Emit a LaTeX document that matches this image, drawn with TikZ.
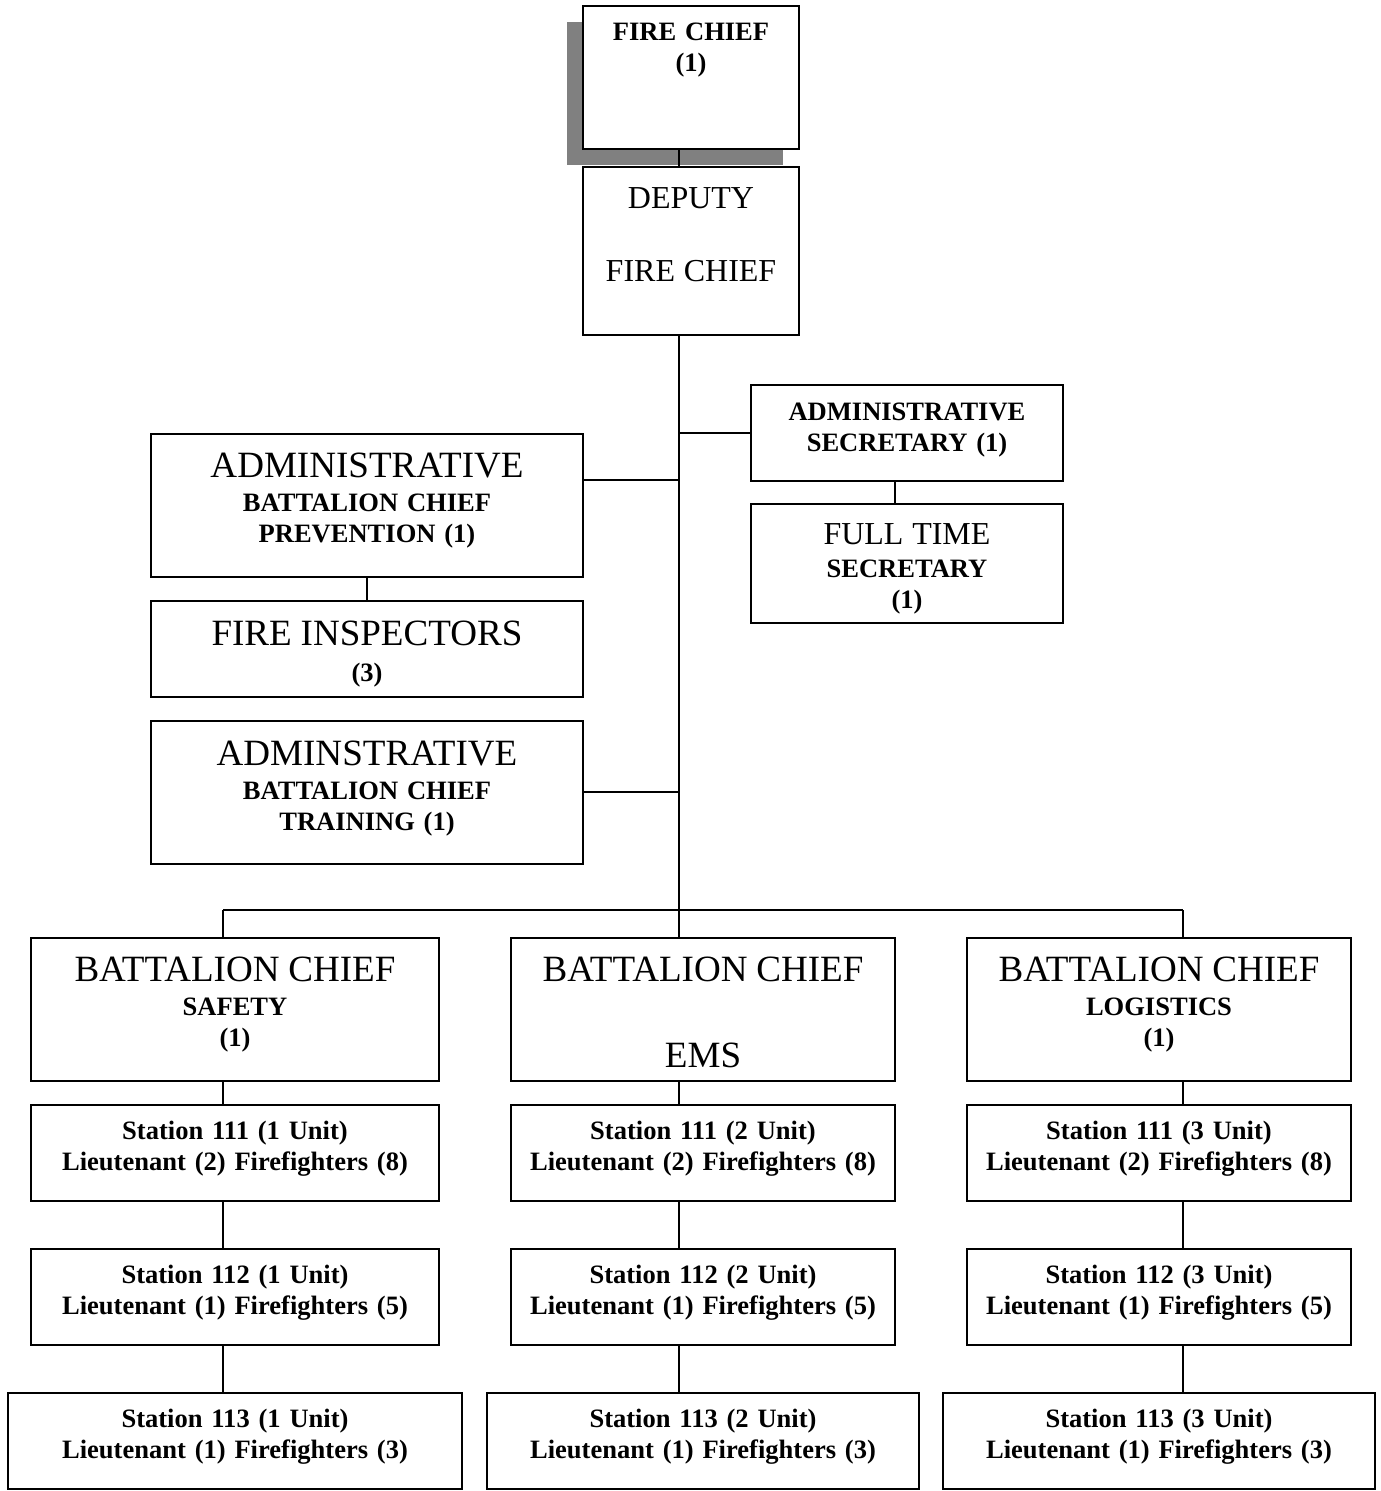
\documentclass[tikz,border=0pt]{standalone}
\usepackage{fontspec}
\setmainfont{Liberation Serif}
\usetikzlibrary{shadows}
\newcommand{\lgtxt}[1]{{\mdseries\fontsize{21.1}{24}\selectfont #1}}
\newcommand{\mdtxt}[1]{{\mdseries\fontsize{18.2}{21}\selectfont #1}}

\begin{document}
\begin{tikzpicture}[x=0.02cm, y=-0.02cm, line width=1.1pt,
  every node/.style={font=\bfseries\fontsize{15.1}{17.6}\selectfont},
  box/.style={draw, anchor=north, align=center, inner sep=0pt, text height=0.70cm},
  bigbox/.style={box, text height=0.88cm}]
  \useasboundingbox (0,0) rectangle (1380,1491);

  % top of the chart
  \node[box, fill=white, text width=4.32cm, text depth=2.16cm,
    drop shadow={shadow xshift=-0.32cm, shadow yshift=-0.32cm, fill=black!50, opacity=1}]
    (chief) at (691,5) {FIRE CHIEF\\(1)};
  \node[bigbox, text height=0.84cm, text width=4.32cm, text depth=2.52cm] (deputy) at (691,166)
    {\mdtxt{DEPUTY}\\[0.84cm]\mdtxt{FIRE CHIEF}};

  % staff boxes
  \node[box, text height=0.72cm, text width=6.24cm, text depth=1.20cm] (adsec) at (907,384)
    {ADMINISTRATIVE\\SECRETARY (1)};
  \node[bigbox, text height=0.82cm, text width=6.24cm, text depth=1.56cm] (ftsec) at (907,503)
    {\mdtxt{FULL TIME}\\[0.04cm]SECRETARY\\(1)};
  \node[bigbox, text width=8.64cm, text depth=1.98cm] (prev) at (367,433)
    {\lgtxt{ADMINISTRATIVE}\\[0.06cm]BATTALION CHIEF\\PREVENTION (1)};
  \node[bigbox, text height=0.90cm, text width=8.64cm, text depth=1.02cm] (insp) at (367,600)
    {\lgtxt{FIRE INSPECTORS}\\[0.1cm](3)};
  \node[bigbox, text height=0.90cm, text width=8.64cm, text depth=1.96cm] (train) at (367,720)
    {\lgtxt{ADMINSTRATIVE}\\[0.06cm]BATTALION CHIEF\\TRAINING (1)};

  % battalion chiefs
  \node[bigbox, text width=8.16cm, text depth=1.98cm] (bcs) at (235,937)
    {\lgtxt{BATTALION CHIEF}\\[0.06cm]SAFETY\\(1)};
  \node[bigbox, text width=7.68cm, text depth=1.98cm] (bce) at (703,937)
    {\lgtxt{BATTALION CHIEF}\\[1.1cm]\lgtxt{EMS}};
  \node[bigbox, text width=7.68cm, text depth=1.98cm] (bcl) at (1159,937)
    {\lgtxt{BATTALION CHIEF}\\[0.06cm]LOGISTICS\\(1)};

  \coordinate (spine) at (679,910);
  \coordinate (buss) at (223,910);
  \coordinate (buse) at (679,910);
  \coordinate (busl) at (1183,910);
  \coordinate (prevjoin) at ([yshift=0.51cm]prev.east);

  \draw (chief.south -| spine) -- (deputy.north -| spine);
  \draw (deputy.south -| spine) -- (spine);
  \draw (adsec.west) -- (adsec.west -| spine);
  \draw ([xshift=-0.24cm]adsec.south) -- ([xshift=-0.24cm]ftsec.north);
  \draw (prevjoin) -- (prevjoin -| spine);
  \draw (prev.south) -- (insp.north);
  \draw (train.east) -- (train.east -| spine);
  \draw (buss) -- (busl);

  % stations under each battalion chief
  \foreach \c/\x/\w/\ww/\u in {s/235/8.16/9.10/1, e/703/7.68/8.64/2, l/1159/7.68/8.64/3} {
    \node[box, text width=\w cm, text depth=1.22cm] (sta\c) at (\x,1104)
      {Station 111 (\u\ Unit)\\Lieutenant (2) Firefighters (8)};
    \node[box, text width=\w cm, text depth=1.22cm] (stb\c) at (\x,1248)
      {Station 112 (\u\ Unit)\\Lieutenant (1) Firefighters (5)};
    \node[box, text width=\ww cm, text depth=1.22cm] (stc\c) at (\x,1392)
      {Station 113 (\u\ Unit)\\Lieutenant (1) Firefighters (3)};
    \draw (bus\c) -- (bc\c.north -| bus\c);
    \draw (bc\c.south -| bus\c) -- (sta\c.north -| bus\c);
    \draw (sta\c.south -| bus\c) -- (stb\c.north -| bus\c);
    \draw (stb\c.south -| bus\c) -- (stc\c.north -| bus\c);
  }
\end{tikzpicture}
\end{document}
